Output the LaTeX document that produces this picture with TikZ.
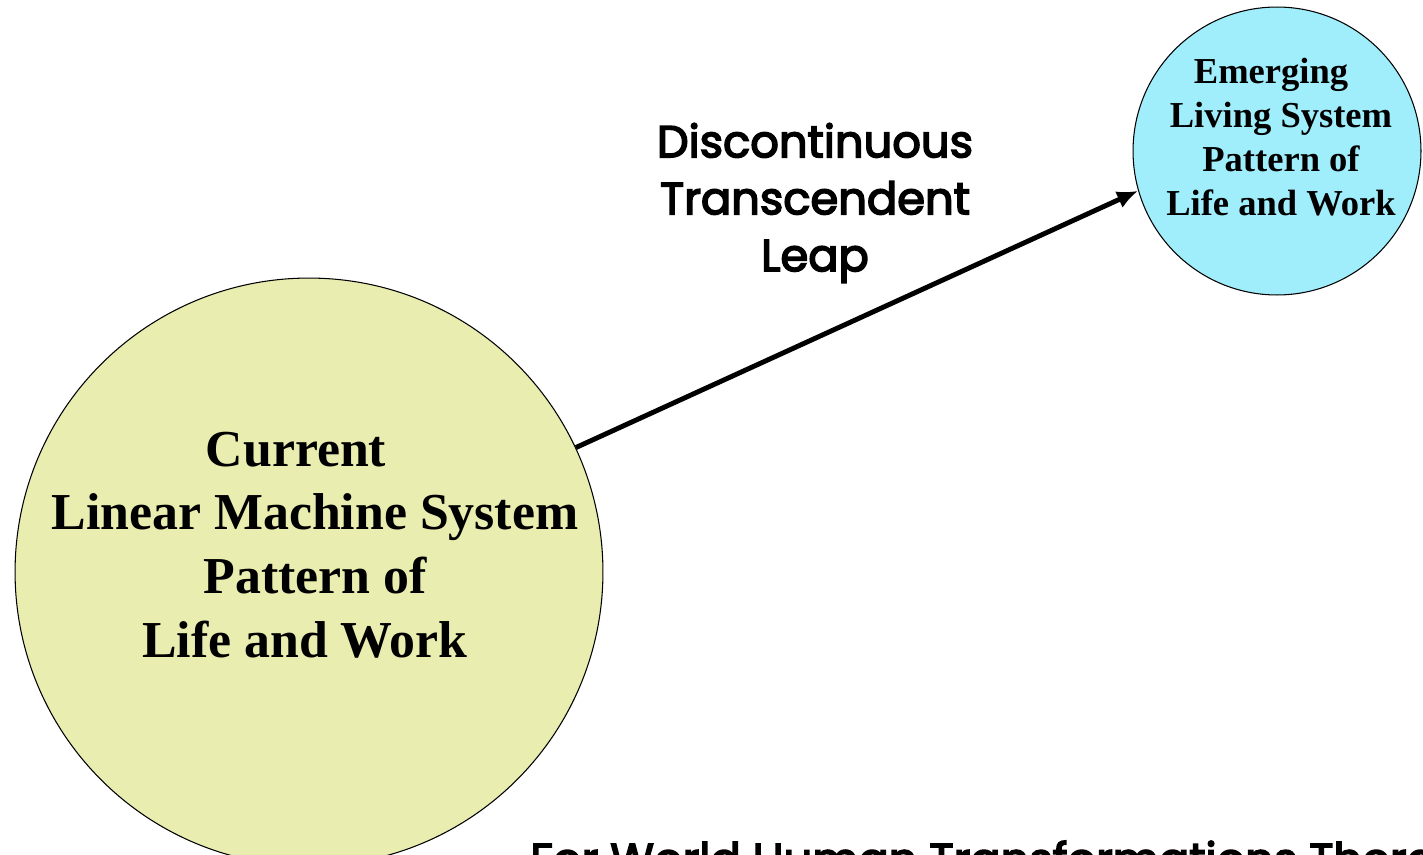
\documentclass[tikz,border=0pt]{standalone}
\usepackage{fontspec}
\setmainfont{Liberation Serif}
\newfontfamily\leapfont{Poppins}[FakeBold=3.5]
\usepackage{tikz}
\usetikzlibrary{calc}
\usetikzlibrary{positioning}
\usetikzlibrary{arrows}
\usetikzlibrary{arrows.meta}
\definecolor{machinefill}{RGB}{234,237,176}
\definecolor{livingfill}{RGB}{160,238,252}

\begin{document}
\begin{tikzpicture}[x=0.02cm,y=-0.02cm,>={Latex[length=0.42cm,width=0.36cm]},
  pattern/.style={circle,draw=black,line width=0.6pt,inner sep=0pt,minimum size=#1},
  serifbig/.style={align=center,font=\bfseries\fontsize{29.5}{36.3}\selectfont},
  serifsmall/.style={align=center,font=\bfseries\fontsize{20.8}{25}\selectfont},
  leap/.style={align=center,font=\leapfont\fontsize{25.5}{32.4}\selectfont}]

\clip (0,0) rectangle (1423,855);

\node [pattern=11.76cm,fill=machinefill] (current) at (309,572) {};
\node [pattern=5.76cm,fill=livingfill] (emerging) at (1277,151) {};

\node [serifbig] (currenttext) at (315,545) {Current\hspace*{0.76cm}\\Linear Machine System\\Pattern of\hspace*{0.8cm}\\Life and Work\hspace*{0.4cm}};
\node [serifsmall] (emergingtext) at (1281,137) {Emerging\hspace*{0.4cm}\\Living System\\Pattern of\hspace*{0.2cm}\\Life and Work};

\draw [->,line width=2.8pt] (current.25) -- (emerging.196);

\node [leap] (leaptext) at (815,203) {Discontinuous\\Transcendent\\Leap};
\node [font=\leapfont\fontsize{25.5}{30}\selectfont,anchor=base west,inner sep=0pt] (footer) at (530,875) {For World Human Transformations Therapy};

\end{tikzpicture}
\end{document}
